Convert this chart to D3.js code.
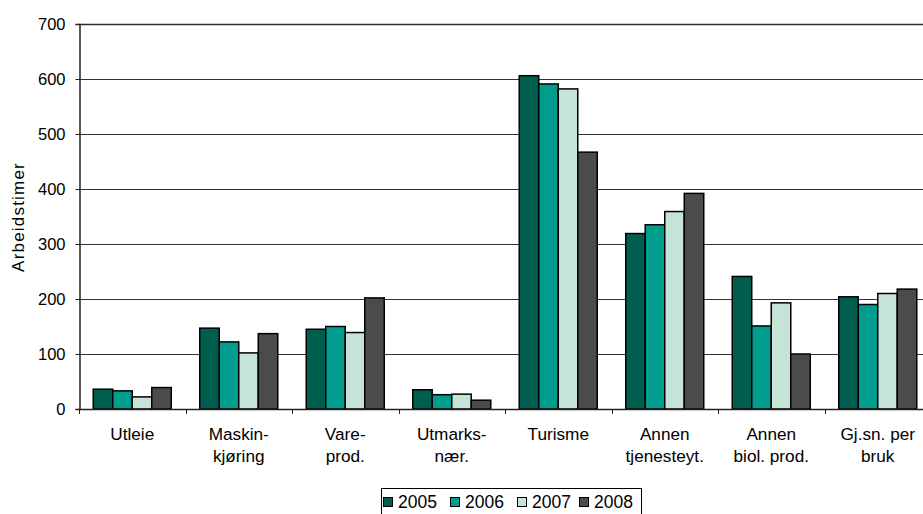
<!DOCTYPE html>
<html>
<head>
<meta charset="utf-8">
<script src="https://cdn.jsdelivr.net/npm/d3@7"></script>
<style>
  html, body { margin: 0; padding: 0; background: #fff; }
  svg { display: block; font-family: "Liberation Sans", Arial, sans-serif; }
</style>
</head>
<body>
<svg id="chart" width="923" height="514"></svg>
<script>
const categories = [
  ["Utleie"],
  ["Maskin-", "kjøring"],
  ["Vare-", "prod."],
  ["Utmarks-", "nær."],
  ["Turisme"],
  ["Annen", "tjenesteyt."],
  ["Annen", "biol. prod."],
  ["Gj.sn. per", "bruk"]
];
const years = ["2005", "2006", "2007", "2008"];
const v2005 = [36, 147, 145, 35, 606, 319, 241, 204];
const v2006 = [33, 122, 150, 26, 591, 335, 151, 190];
const v2007 = [22, 102, 139, 27, 582, 359, 193, 210];
const v2008 = [39, 137, 202, 16, 467, 392, 100, 218];
const yTicks = [0, 100, 200, 300, 400, 500, 600, 700];
const colors = ["#005e4f", "#009d8e", "#c6e3d7", "#4b4b4d"];
const yLabel = "Arbeidstimer";

(function () {
const series = [v2005, v2006, v2007, v2008];
const catKeys = categories.map(c => c.join(" "));
const FS = 16.5;

const svg = d3.select("#chart");
const pL = 79, pR = 931, pT = 24, pB = 409;

const y = d3.scaleLinear().domain([0, 700]).range([pB, pT]);
const x0 = d3.scaleBand().domain(catKeys).range([pL, pR]).padding(0);
const x1 = d3.scaleBand().domain(years).range([0, x0.bandwidth()]).paddingInner(0).paddingOuter(0.73);

// gridlines
svg.append("g").selectAll("line").data(yTicks.filter(t => t > 0)).join("line")
  .attr("x1", pL).attr("x2", 923)
  .attr("y1", d => Math.round(y(d)) + 0.5).attr("y2", d => Math.round(y(d)) + 0.5)
  .attr("stroke", d => d === 700 ? "#3a2a26" : "#333")
  .attr("stroke-width", d => d === 700 ? 1.5 : 1);

// bars
const groups = svg.append("g").selectAll("g").data(catKeys).join("g")
  .attr("transform", d => `translate(${x0(d)},0)`);
groups.selectAll("rect").data((d, i) => years.map((yr, j) => ({ yr, j, v: series[j][i] }))).join("rect")
  .attr("x", d => x1(d.yr))
  .attr("y", d => y(d.v))
  .attr("width", x1.bandwidth())
  .attr("height", d => y(0) - y(d.v))
  .attr("fill", d => colors[d.j])
  .attr("stroke", "#000")
  .attr("stroke-width", 1.5);

// y axis
const yAxis = d3.axisLeft(y).tickValues(yTicks).tickSize(4).tickPadding(10);
const ya = svg.append("g").attr("transform", `translate(${pL + 0.5},0)`).call(yAxis);
ya.attr("font-size", FS).attr("font-family", "Liberation Sans, Arial, sans-serif");
ya.select(".domain").attr("stroke", "#2a1f1c").attr("stroke-width", 1.5);
ya.selectAll(".tick line").attr("stroke", "#2a1f1c");
ya.selectAll(".tick text").attr("fill", "#000");

// x axis line
svg.append("line").attr("x1", pL).attr("x2", 923)
  .attr("y1", pB + 0.5).attr("y2", pB + 0.5)
  .attr("stroke", "#2a1f1c").attr("stroke-width", 1.5);
// category boundary ticks
const bounds = catKeys.map(k => x0(k)).concat([pR]);
svg.append("g").selectAll("line").data(bounds).join("line")
  .attr("x1", d => Math.round(d) + 0.5).attr("x2", d => Math.round(d) + 0.5)
  .attr("y1", pB).attr("y2", pB + 5)
  .attr("stroke", "#2a1f1c");

// category labels
const lab = svg.append("g").selectAll("text").data(categories).join("text")
  .attr("x", (d, i) => x0(catKeys[i]) + x0.bandwidth() / 2)
  .attr("y", 440)
  .attr("text-anchor", "middle")
  .attr("font-size", 17.2)
  .attr("fill", "#000");
lab.selectAll("tspan").data(d => d).join("tspan")
  .attr("x", function () { return d3.select(this.parentNode).attr("x"); })
  .attr("dy", (d, i) => i === 0 ? 0 : 21.5)
  .text(d => d);

// y label
svg.append("text")
  .attr("transform", "translate(24,217) rotate(-90)")
  .attr("text-anchor", "middle")
  .attr("font-size", 17)
  .attr("letter-spacing", 1.2)
  .attr("fill", "#000")
  .text(yLabel);

// legend
const lg = svg.append("g");
lg.append("rect").attr("x", 381.5).attr("y", 488.5).attr("width", 260).attr("height", 40)
  .attr("fill", "#fff").attr("stroke", "#000");
const itemX = [383, 450, 517, 579];
years.forEach((yr, j) => {
  lg.append("rect").attr("x", itemX[j] + 0.5).attr("y", 497.5).attr("width", 9).attr("height", 9)
    .attr("fill", colors[j]).attr("stroke", "#000");
  lg.append("text").attr("x", itemX[j] + 15).attr("y", 507.5)
    .attr("font-size", 17.5).attr("fill", "#000").text(yr);
});
})();
</script>
</body>
</html>
